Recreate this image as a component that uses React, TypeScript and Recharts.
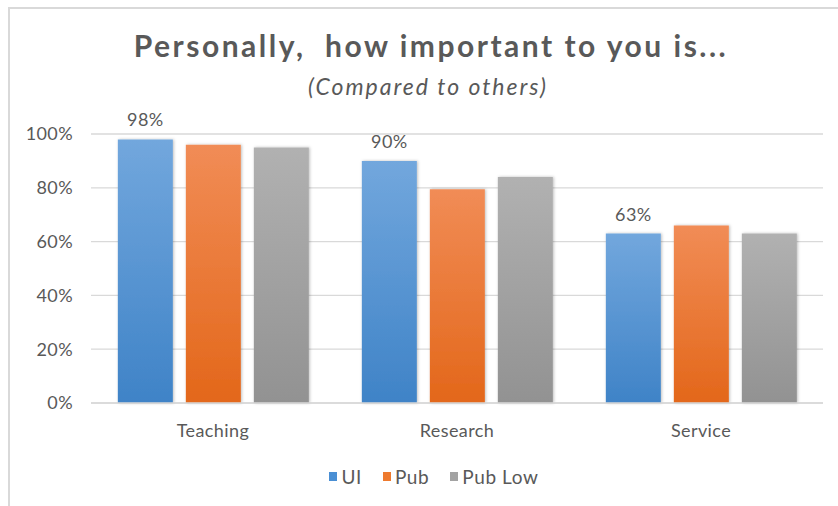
import React from 'react'
import {
  BarChart, Bar, XAxis, YAxis, CartesianGrid, Legend, LabelList,
} from 'recharts'

// Personally, how important to you is... (Compared to others)
// Three groups, three series; values in percent.

const categories = ['Teaching', 'Research', 'Service']
const uiValues = [98, 90, 63]
const pubValues = [96, 79.5, 66]
const pubLowValues = [95, 84, 63]
const yTicks = [0, 20, 40, 60, 80, 100]

const FONT = 'Lato, "Open Sans", sans-serif'
const INK = '#595959'
const GRID = '#d9d9d9'

const data = categories.map((name, i) => ({
  name,
  ui: uiValues[i],
  pub: pubValues[i],
  pubLow: pubLowValues[i],
}))

const series = [
  { key: 'ui', name: 'UI', grad: 'gUI', top: '#72a7dd', bottom: '#3f83c7', swatch: '#4a8fd4' },
  { key: 'pub', name: 'Pub', grad: 'gPub', top: '#f18c56', bottom: '#e3671a', swatch: '#ee7a2e' },
  { key: 'pubLow', name: 'Pub Low', grad: 'gLow', top: '#b1b1b1', bottom: '#929292', swatch: '#a3a3a3' },
]

const tick = { fontSize: 18, fill: INK, fontFamily: FONT, letterSpacing: 0.4 }

// legend kept in series order (recharts sorts it by name otherwise)
function SeriesLegend() {
  return (
    <div style={{ display: 'flex', justifyContent: 'center', gap: 21, paddingLeft: 14, paddingTop: 1, fontFamily: FONT, fontSize: 19, color: INK, letterSpacing: 0.6 }}>
      {series.map((s) => (
        <span key={s.key} style={{ display: 'flex', alignItems: 'center', gap: 4 }}>
          <span style={{ width: 8, height: 9, background: s.swatch, display: 'inline-block' }} />
          {s.name}
        </span>
      ))}
    </div>
  )
}

export default function App() {
  return (
    <div style={{ position: 'fixed', left: 0, top: 0, width: 838, height: 506, background: '#fff', overflow: 'hidden' }}>
      <div style={{
        position: 'absolute', left: 8, top: 7, width: 840, height: 510,
        borderTop: `2px solid ${GRID}`, borderLeft: `2px solid ${GRID}`,
      }} />
      <div style={{
        position: 'absolute', left: 0, width: 862, top: 27, textAlign: 'center',
        fontFamily: FONT, fontWeight: 700, fontSize: 30, letterSpacing: 2.5, color: INK, whiteSpace: 'pre',
      }}>
        {'Personally,  how important to you is...'}
      </div>
      <div style={{
        position: 'absolute', left: 0, width: 856, top: 72, textAlign: 'center',
        fontFamily: FONT, fontStyle: 'italic', fontSize: 23, letterSpacing: 2, color: INK,
      }}>
        (Compared to others)
      </div>
      <div style={{ position: 'absolute', left: 0, top: 0 }}>
        <BarChart
          width={838}
          height={506}
          data={data}
          margin={{ top: 134, right: 15, bottom: 11, left: 31 }}
          barCategoryGap="11%"
          barGap={13}
        >
          <defs>
            {series.map((s) => (
              <linearGradient key={s.grad} id={s.grad} x1="0" y1="0" x2="0" y2="1">
                <stop offset="0%" stopColor={s.top} />
                <stop offset="100%" stopColor={s.bottom} />
              </linearGradient>
            ))}
            <filter id="shadow" x="-10%" y="-10%" width="130%" height="120%">
              <feDropShadow dx="1" dy="0" stdDeviation="1.5" floodColor="#000" floodOpacity="0.25" />
            </filter>
          </defs>
          <CartesianGrid vertical={false} stroke={GRID} strokeWidth={1.3} />
          <XAxis
            dataKey="name"
            tick={tick}
            tickLine={false}
            axisLine={{ stroke: GRID, strokeWidth: 1.5 }}
            tickSize={0}
            tickMargin={21}
            height={50}
          />
          <YAxis
            domain={[0, 100]}
            ticks={yTicks}
            tickFormatter={(v: number) => `${v}%`}
            tick={tick}
            tickLine={false}
            axisLine={false}
            tickMargin={12}
            width={60}
            interval={0}
          />
          <Legend
            verticalAlign="bottom"
            align="center"
            wrapperStyle={{ bottom: 0, height: 42 }}
            content={() => <SeriesLegend />}
          />
          {series.map((s) => (
            <Bar
              key={s.key}
              dataKey={s.key}
              name={s.name}
              fill={`url(#${s.grad})`}
              isAnimationActive={false}
              style={{ filter: 'url(#shadow)' }}
            >
              {s.key === 'ui' && (
                <LabelList
                  dataKey="ui"
                  position="top"
                  offset={13}
                  formatter={(v: number) => `${v}%`}
                  style={{ fontSize: 18, fill: INK, fontFamily: FONT, letterSpacing: 0.4 }}
                />
              )}
            </Bar>
          ))}
        </BarChart>
      </div>
    </div>
  )
}
